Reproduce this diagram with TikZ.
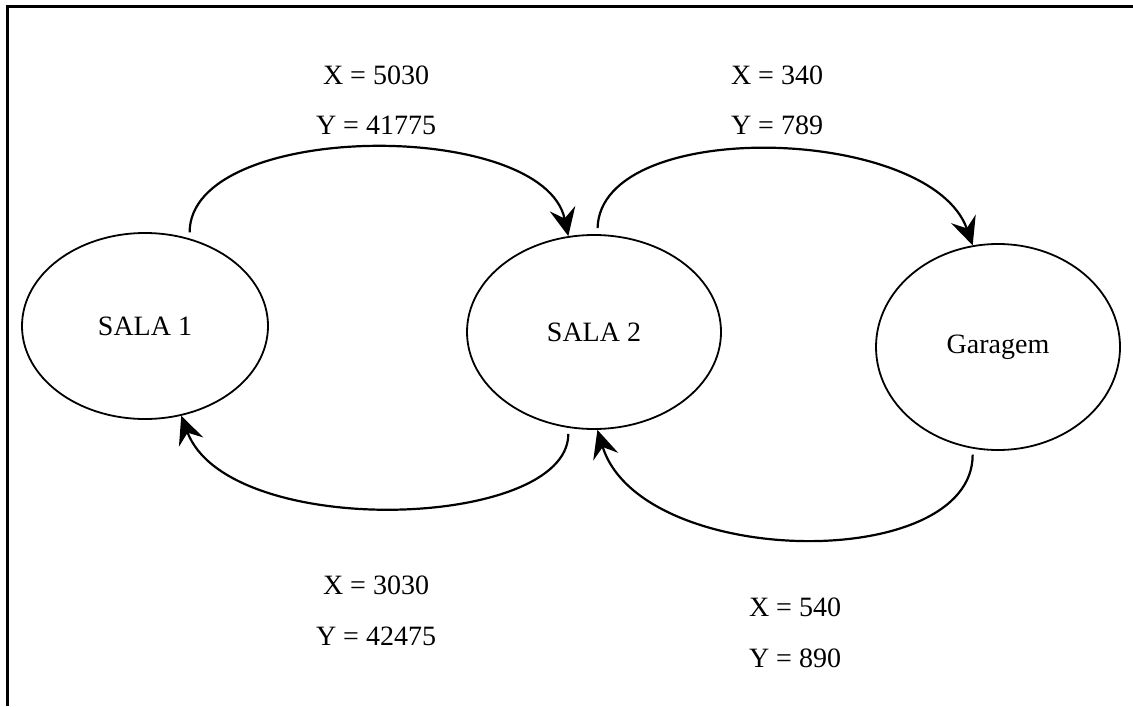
\documentclass[tikz,border=0pt]{standalone}
\usepackage{fontspec}
\setmainfont{Liberation Serif}
\usepackage{tikz}
\usetikzlibrary{shapes.geometric,arrows.meta}

\begin{document}
\begin{tikzpicture}[x=0.5pt,y=-0.5pt,font=\fontsize{14}{16}\selectfont]
      \tikzstyle{room} = [ellipse, draw=black, line width=0.9pt, inner sep=0pt]
      \tikzstyle{arrow} = [line width=1.1pt, -{Stealth[length=14pt,width=13pt,inset=5pt]}, shorten <=3pt]
      \tikzstyle{coord} = [inner sep=0pt]

      \useasboundingbox (0,0) rectangle (1133,706);
      \draw [line width=1.2pt] (1133,6.5) -- (7.5,6.5) -- (7.5,706);

      \node (sala1) [room, minimum width=123pt, minimum height=93pt] at (145,326) {SALA 1};
      \node (sala2) [room, minimum width=127pt, minimum height=97pt] at (594,332) {SALA 2};
      \node (garagem) [room, minimum width=122pt, minimum height=103pt] at (998,347) {Garagem};

      \node (x1) [coord] at (376,75) {X = 5030};
      \node (y1) [coord] at (376,125) {Y = 41775};
      \node (x2) [coord] at (777,75) {X = 340};
      \node (y2) [coord] at (777,125) {Y = 789};
      \node (x3) [coord] at (376,585) {X = 3030};
      \node (y3) [coord] at (376,636) {Y = 42475};
      \node (x4) [coord] at (795,607) {X = 540};
      \node (y4) [coord] at (795,658) {Y = 890};

      \draw [arrow] (sala1.63) .. controls +(0,-118) and +(-25,-118) .. (sala2.105);
      \draw [arrow] (sala2.88) .. controls +(3,-118) and +(-42,-120) .. (garagem.104);
      \draw [arrow] (garagem.256) .. controls +(0,125) and +(43,139) .. (sala2.272);
      \draw [arrow] (sala2.255) .. controls +(0,102) and +(47,125) .. (sala1.292);
    \end{tikzpicture}
\end{document}
